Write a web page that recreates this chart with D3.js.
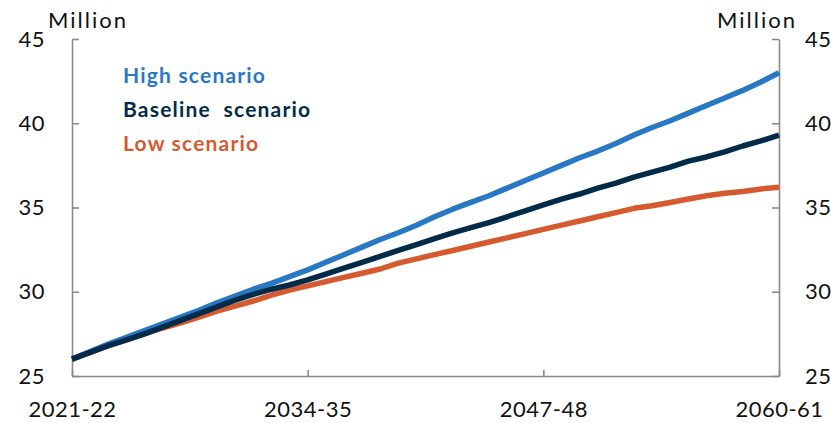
<!DOCTYPE html>
<html lang="en">
<head>
    <title>Population projections</title>
    <script src="https://d3js.org/d3.v7.min.js"></script>
    <style>
        body{
            margin: 0;
            background-color: white;
        }
        svg{
            display: block;
        }
        text{
            font-family: Lato, "Open Sans", sans-serif;
        }
    </style>
</head>
<body>
<div id="chart"></div>
<script>

// financial years 2021-22 .. 2060-61
var years = d3.range(2021, 2061).map(function(y){
    return y + "-" + String(y + 1).slice(2)
})
var xTickLabels = ["2021-22", "2034-35", "2047-48", "2060-61"]
var yTicks = [25, 30, 35, 40, 45]

// million people
var highScenario = [26.0, 26.45, 26.9, 27.3, 27.7, 28.1, 28.5, 28.9, 29.35, 29.75,
    30.15, 30.5, 30.9, 31.3, 31.75, 32.2, 32.65, 33.1, 33.5, 33.95,
    34.45, 34.9, 35.3, 35.7, 36.15, 36.6, 37.05, 37.5, 37.95, 38.35,
    38.8, 39.3, 39.75, 40.15, 40.6, 41.05, 41.5, 41.95, 42.45, 43.0]
var baselineScenario = [26.0, 26.4, 26.8, 27.15, 27.5, 27.9, 28.3, 28.7, 29.1, 29.5,
    29.85, 30.15, 30.4, 30.7, 31.05, 31.4, 31.75, 32.1, 32.45, 32.8,
    33.15, 33.5, 33.8, 34.1, 34.45, 34.8, 35.15, 35.5, 35.8, 36.15,
    36.45, 36.8, 37.1, 37.4, 37.75, 38.0, 38.3, 38.65, 38.95, 39.3]
var lowScenario = [26.0, 26.4, 26.8, 27.15, 27.5, 27.85, 28.15, 28.5, 28.85, 29.15,
    29.45, 29.8, 30.1, 30.35, 30.6, 30.85, 31.1, 31.35, 31.7, 31.95,
    32.2, 32.45, 32.7, 32.95, 33.2, 33.45, 33.7, 33.95, 34.2, 34.45,
    34.7, 34.95, 35.1, 35.3, 35.5, 35.7, 35.85, 35.95, 36.1, 36.2]

var series = [
    {name: "Low scenario", values: lowScenario, color: "#d65a30"},
    {name: "High scenario", values: highScenario, color: "#2878c4"},
    {name: "Baseline  scenario", values: baselineScenario, color: "#022b4a"}
]
var legendOrder = [1, 2, 0]

var width = 831, height = 423
var plotLeft = 72, plotRight = 779, plotTop = 39, plotBottom = 376
var axisColor = "#8a8a8a"

var svg = d3.select("#chart")
    .append("svg")
    .attr("width", width)
    .attr("height", height)

var x = d3.scalePoint()
    .domain(years)
    .range([plotLeft, plotRight])

var y = d3.scaleLinear()
    .domain([25, 45])
    .range([plotBottom, plotTop])

// axes, ticks point into the plot
var gLeft = svg.append("g")
    .attr("transform", "translate(" + plotLeft + ",0)")
    .call(d3.axisLeft(y).tickValues(yTicks).tickSizeInner(-7).tickSizeOuter(0).tickPadding(27))
var gRight = svg.append("g")
    .attr("transform", "translate(" + plotRight + ",0)")
    .call(d3.axisRight(y).tickValues(yTicks).tickSizeInner(-7).tickSizeOuter(0).tickPadding(26))
var gBottom = svg.append("g")
    .attr("transform", "translate(0," + plotBottom + ")")
    .call(d3.axisBottom(x).tickValues(xTickLabels).tickSizeInner(-6).tickSizeOuter(0).tickPadding(25))

;[gLeft, gRight, gBottom].forEach(function(g){
    g.selectAll("path, line").attr("stroke", axisColor).attr("stroke-width", 1.6)
    g.selectAll("text").attr("fill", "#111").style("font-size", "22px").style("letter-spacing", "0.5px")
})

// unit labels
svg.append("text")
    .attr("x", 48).attr("y", 28)
    .style("font-size", "22px").style("letter-spacing", "2px").attr("fill", "#111")
    .text("Million")
svg.append("text")
    .attr("x", 797).attr("y", 28)
    .attr("text-anchor", "end")
    .style("font-size", "22px").style("letter-spacing", "2px").attr("fill", "#111")
    .text("Million")

// lines
var line = d3.line()
    .x(function(d, i){ return x(years[i]) })
    .y(function(d){ return y(d) })

svg.selectAll("path.series")
    .data(series)
    .enter()
    .append("path")
    .attr("class", "series")
    .attr("d", function(d){ return line(d.values) })
    .attr("fill", "none")
    .attr("stroke", function(d){ return d.color })
    .attr("stroke-width", 5.5)
    .attr("stroke-linejoin", "round")

// legend
svg.selectAll("text.legend")
    .data(legendOrder.map(function(i){ return series[i] }))
    .enter()
    .append("text")
    .attr("class", "legend")
    .attr("x", 123)
    .attr("y", function(d, i){ return 83 + i * 34 })
    .attr("fill", function(d){ return d.color })
    .style("font-size", "21px")
    .style("font-weight", "bold")
    .style("letter-spacing", "1.2px")
    .style("white-space", "pre")
    .text(function(d){ return d.name })

</script>
</body>
</html>
